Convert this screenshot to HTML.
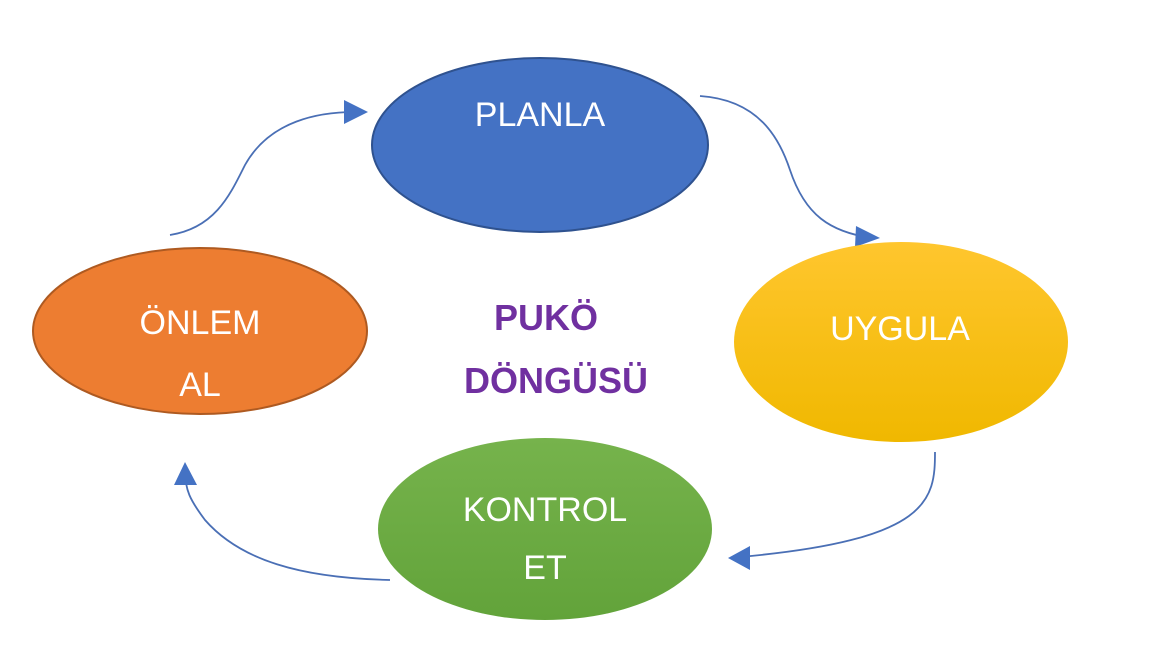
<!DOCTYPE html>
<html><head><meta charset="utf-8"><style>
html,body{margin:0;padding:0;background:#fff;width:1150px;height:646px;overflow:hidden}
svg text{font-family:"Liberation Sans",sans-serif}
</style></head><body>
<svg width="1150" height="646" viewBox="0 0 1150 646" xmlns="http://www.w3.org/2000/svg">
<defs>
<linearGradient id="gy" x1="0" y1="0" x2="0" y2="1"><stop offset="0" stop-color="#ffc62e"/><stop offset="1" stop-color="#f0b800"/></linearGradient>
<linearGradient id="gg" x1="0" y1="0" x2="0" y2="1"><stop offset="0" stop-color="#76b34c"/><stop offset="1" stop-color="#62a33a"/></linearGradient>
</defs>
<g fill="none" stroke="#4a6fb5" stroke-width="1.8">
<path d="M170,235 C215,228 230,195 245,165 C270,120 320,112 355,112"/>
<path d="M700,96 C760,100 780,140 790,170 C805,215 830,232 872,238" />
<path d="M935,452 C935,500 930,540 740,557" />
<path d="M390,580 C300,578 240,560 205,520 C190,500 185,490 185,470" />
</g>
<g fill="#4472c4">
<polygon points="368,112 344,100 344,124"/>
<polygon points="880,238 856,226 855,247"/>
<polygon points="728,558 750,546 750,570"/>
<polygon points="185,462 174,485 197,485"/>
</g>
<ellipse cx="540" cy="145" rx="168" ry="87" fill="#4472c4" stroke="#2f528f" stroke-width="2"/>
<ellipse cx="901" cy="342" rx="167" ry="100" fill="url(#gy)"/>
<ellipse cx="545" cy="529" rx="167" ry="91" fill="url(#gg)"/>
<ellipse cx="200" cy="331" rx="167" ry="83" fill="#ed7d31" stroke="#ae5a21" stroke-width="2"/>
<g fill="#fff" font-size="34" text-anchor="middle">
<text x="540" y="126">PLANLA</text>
<text x="900" y="340">UYGULA</text>
<text x="545" y="521">KONTROL</text>
<text x="545" y="579">ET</text>
<text x="200" y="334">ÖNLEM</text>
<text x="200" y="396">AL</text>
</g>
<g fill="#7030a0" font-size="36" font-weight="bold" text-anchor="middle">
<text x="546" y="330">PUKÖ</text>
<text x="556" y="393">DÖNGÜSÜ</text>
</g>
</svg>
</body></html>
